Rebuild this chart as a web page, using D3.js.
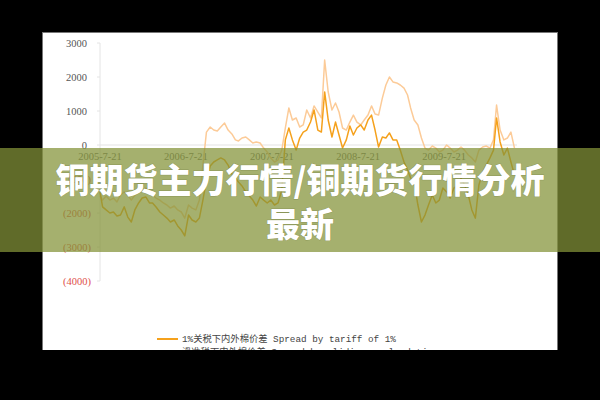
<!DOCTYPE html>
<html><head><meta charset="utf-8">
<script src="https://cdn.jsdelivr.net/npm/d3@7"></script>
<style>
html,body{margin:0;padding:0;background:#000;}
svg{display:block;}
</style></head>
<body>
<svg id="c" width="600" height="400"></svg>
<script>
// ---- data ----
const dates = ["2005-07-21",
"2005-08-01","2005-08-16","2005-09-01","2005-09-16","2005-10-01","2005-10-16","2005-11-01","2005-11-16","2005-12-01","2005-12-16",
"2006-01-01","2006-01-16","2006-02-01","2006-02-16","2006-03-01","2006-03-16","2006-04-01","2006-04-16","2006-05-01","2006-05-16",
"2006-06-01","2006-06-16","2006-07-01","2006-07-16","2006-08-01","2006-08-16","2006-09-01","2006-09-16","2006-10-01","2006-10-16",
"2006-11-01","2006-11-16","2006-12-01","2006-12-16","2007-01-01","2007-01-16","2007-02-01","2007-02-16","2007-03-01","2007-03-16",
"2007-04-01","2007-04-16","2007-05-01","2007-05-16","2007-06-01","2007-06-16","2007-07-01","2007-07-16","2007-08-01","2007-08-16",
"2007-09-01","2007-09-16","2007-10-01","2007-10-16","2007-11-01","2007-11-16","2007-12-01","2007-12-16","2008-01-01","2008-01-16",
"2008-02-01","2008-02-16","2008-03-01","2008-03-16","2008-04-01","2008-04-16","2008-05-01","2008-05-16","2008-06-01","2008-06-16",
"2008-07-01","2008-07-16","2008-08-01","2008-08-16","2008-09-01","2008-09-16","2008-10-01","2008-10-16","2008-11-01","2008-11-16",
"2008-12-01","2008-12-16","2009-01-01","2009-01-16","2009-02-01","2009-02-16","2009-03-01","2009-03-16","2009-04-01","2009-04-16",
"2009-05-01","2009-05-16","2009-06-01","2009-06-16","2009-07-01","2009-07-16","2009-08-01","2009-08-16","2009-09-01","2009-09-16",
"2009-10-01","2009-10-16","2009-11-01","2009-11-16","2009-12-01","2009-12-16","2010-01-01","2010-01-16","2010-02-01","2010-02-16",
"2010-03-01","2010-03-16","2010-04-01","2010-04-16","2010-05-01","2010-05-16"];

// 1%关税下内外棉价差 Spread by tariff of 1%
const spreadTariff = [-1380,
-1820,-1910,-2000,-1970,-2090,-2060,-1820,-2120,-2265,-1910,
-1705,-1560,-1530,-1705,-1705,-1825,-1970,-2060,-2150,-2265,
-2205,-2380,-2500,-2675,-2060,-2205,-2265,-2150,-1620,-1030,
-620,-500,-440,-380,-440,-590,-850,-970,-1090,-1205,
-1380,-1500,-1620,-1795,-1530,-1620,-1705,-1620,-1765,-1705,
-1325,150,500,150,-150,205,380,440,675,1030,
440,380,1560,735,235,675,295,-90,150,560,
295,500,590,440,735,880,440,-60,235,205,
355,150,150,-150,-500,-735,-970,-1090,-1765,-2265,
-2060,-1765,-1470,-1705,-1620,-1265,-1380,-1560,-1265,-1205,
-970,-1175,-1470,-1910,-2150,-1175,-795,-590,-380,-150,
795,90,-295,-90,-500,-880];

// 滑准税下内外棉价差 Spread by sliding scale duties
const spreadSliding = [-1500,
-1620,-1500,-1620,-1560,-1675,-1470,-1380,-1470,-1620,-1470,
-1380,-1325,-1265,-1380,-1470,-1560,-1620,-1705,-1765,-1855,
-1795,-1910,-1970,-2150,-1765,-1855,-1910,-1620,-590,380,
530,440,410,530,645,440,325,150,120,205,
235,150,60,90,60,-90,-205,-380,-500,-440,
-150,500,1090,735,795,530,590,1030,795,1150,
970,795,2500,1560,1030,1235,970,500,440,675,
880,675,590,735,880,1150,910,880,1380,1765,
2000,1855,1825,1765,1675,1470,1090,735,590,205,
-90,-150,-30,-90,-205,-150,0,-90,-205,-150,
-60,-150,-295,-380,-500,-150,-60,-30,-90,150,
1175,440,150,205,380,-90];

const yTicks = [3000, 2000, 1000, 0, -1000, -2000, -3000, -4000];
const xTickDates = ["2005-07-21","2006-07-21","2007-07-21","2008-07-21","2009-07-21"];
const legendLabels = ["1%关税下内外棉价差 Spread by tariff of 1%", "滑准税下内外棉价差 Spread by sliding scale duties"];
const titleLines = ["铜期货主力行情/铜期货行情分析", "最新"];

// ---- drawing ----
const parse = d3.timeParse("%Y-%m-%d");
const svg = d3.select("#c");
const colTariff = "#f5a11c", colSliding = "#fccb98";

// white panel
const panel = svg.append("g");
svg.append("defs").append("clipPath").attr("id","pc")
  .append("rect").attr("x",42).attr("y",32).attr("width",516).attr("height",318);
panel.attr("clip-path","url(#pc)");
panel.append("rect").attr("x",42).attr("y",32).attr("width",516).attr("height",318)
  .attr("fill","#fff");

const x = d3.scaleTime().domain([parse("2005-07-21"), parse("2010-07-21")]).range([100, 530]);
const y = d3.scaleLinear().domain([-4000, 3000]).range([281, 43]);

// y axis line
panel.append("line").attr("x1",100).attr("x2",100).attr("y1",y(3000)).attr("y2",y(-4000))
  .attr("stroke","#e4e4e4").attr("stroke-width",1);
// zero line
panel.append("line").attr("x1",100).attr("x2",517).attr("y1",y(0)).attr("y2",y(0))
  .attr("stroke","#e4e4e4").attr("stroke-width",1.2);
// y ticks
panel.selectAll(".yt").data(yTicks).enter().append("line")
  .attr("x1",97).attr("x2",100).attr("y1",d=>y(d)).attr("y2",d=>y(d))
  .attr("stroke","#e4e4e4");
panel.selectAll(".yl").data(yTicks).enter().append("text")
  .attr("x",d=> d<0 ? 91 : 87).attr("y",d=>y(d)).attr("dy","0.35em")
  .attr("text-anchor","end")
  .attr("font-family","'Liberation Serif', serif").attr("font-size",10.5)
  .attr("fill",d=> d<0 ? "#e0504a" : "#555")
  .text(d=> d<0 ? "(" + Math.abs(d) + ")" : String(d));
// x labels
const fmt = d3.timeFormat("%Y-%-m-%-d");
panel.selectAll(".xl").data(xTickDates).enter().append("text")
  .attr("x",d=>x(parse(d))).attr("y",y(0)+15)
  .attr("text-anchor","middle")
  .attr("font-family","'Liberation Serif', serif").attr("font-size",10.5)
  .attr("fill","#666")
  .text(d=>fmt(parse(d)));

const line = d3.line().x(d=>x(d[0])).y(d=>y(d[1]));
const pts = arr => dates.map((d,i)=>[parse(d), arr[i]]);
panel.append("path").datum(pts(spreadSliding)).attr("d",line)
  .attr("fill","none").attr("stroke",colSliding).attr("stroke-width",1.5).attr("stroke-linejoin","round");
panel.append("path").datum(pts(spreadTariff)).attr("d",line)
  .attr("fill","none").attr("stroke",colTariff).attr("stroke-width",1.5).attr("stroke-linejoin","round");

// legend
const lg = panel.selectAll(".lg").data(legendLabels).enter().append("g")
  .attr("transform",(d,i)=>`translate(157,${339 + i*13})`);
lg.append("line").attr("x1",0).attr("x2",21).attr("y1",0).attr("y2",0)
  .attr("stroke",(d,i)=> i===0 ? colTariff : colSliding).attr("stroke-width",2);
lg.append("text").attr("x",25).attr("y",0).attr("dy","0.35em")
  .attr("font-family","'Liberation Mono', 'Noto Sans CJK SC', monospace").attr("font-size",9.3)
  .attr("fill","#444").text(d=>d);

// panel border
svg.append("rect").attr("x",42.5).attr("y",32.5).attr("width",515).attr("height",330)
  .attr("fill","none").attr("stroke","#777").attr("stroke-width",1);
svg.append("rect").attr("x",0).attr("y",350).attr("width",600).attr("height",50).attr("fill","#000");

// banner overlay
svg.append("rect").attr("x",0).attr("y",148).attr("width",600).attr("height",104)
  .attr("fill","rgb(132,147,56)").attr("fill-opacity",0.73);
svg.selectAll(".tt").data(titleLines).enter().append("text")
  .attr("x",300).attr("y",(d,i)=>181 + i*44).attr("dy","0.36em")
  .attr("text-anchor","middle")
  .attr("font-family","'Noto Sans CJK SC', sans-serif").attr("font-weight",900)
  .attr("font-size",34).attr("fill","#fff")
  .style("paint-order","stroke").attr("stroke","rgba(60,70,20,0.25)").attr("stroke-width",1)
  .text(d=>d);
</script>
</body></html>
